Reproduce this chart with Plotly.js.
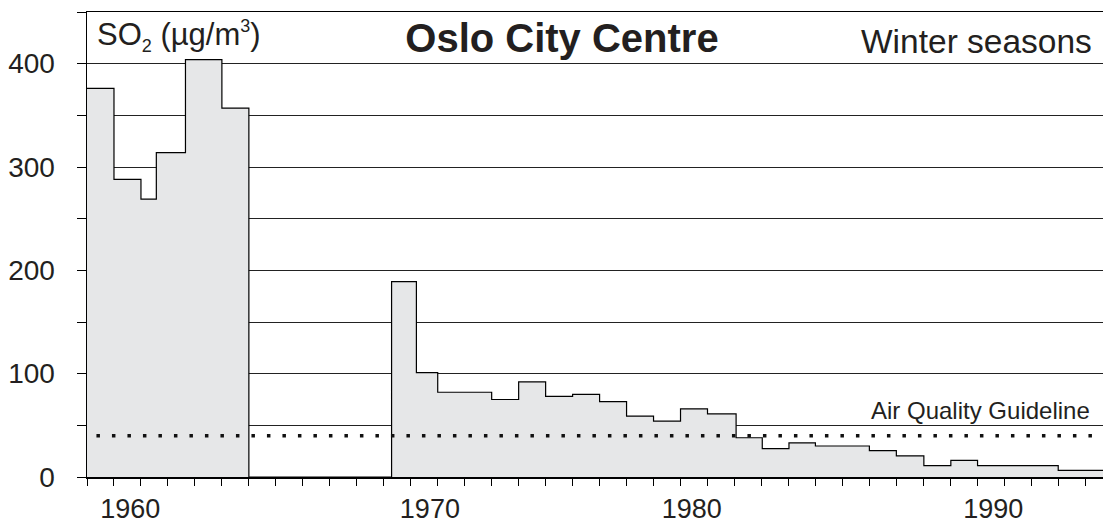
<!DOCTYPE html>
<html>
<head>
<meta charset="utf-8">
<script src="https://cdn.plot.ly/plotly-3.0.1.min.js"></script>
<style>html,body{margin:0;padding:0;background:#fff;}#chart{width:1103px;height:524px;}</style>
</head>
<body>
<div id="chart"></div>
<script>
// Season step edges (start of each step, last value = right end) and SO2 values (µg/m3)
const seasonEdges = [1958, 1959, 1960, 1960.57, 1961.65, 1963, 1964, 1969.29, 1970.21, 1971, 1973, 1974, 1975, 1976, 1977, 1978, 1979, 1980, 1981, 1982.06, 1983.03, 1984.02, 1985, 1987, 1988, 1989.02, 1990.02, 1991.01, 1994, 1995.66];
const so2Values   = [376, 288, 269, 314, 404, 357, 0, 189, 101, 82, 75, 92, 78, 80, 73, 59, 54, 66, 61, 38, 27.5, 33, 30, 25.5, 20.5, 11, 16, 11, 6.5, 6.5];
const guidelineValue = 40;
const guidelineSpan = [1958.35, 1995.66];
const xTickPositions = [1959.6, 1970.71, 1980.42, 1991.59];
const xTickLabels = ["1960", "1970", "1980", "1990"];

const FONT = "Liberation Sans, Arial, Helvetica, sans-serif";
const INK = "#231f20";

const traces = [
  {
    x: seasonEdges, y: so2Values, type: "scatter", mode: "lines",
    line: {shape: "hv", color: "#000", width: 1.2},
    fill: "tozeroy", fillcolor: "#e6e7e8",
    hoverinfo: "x+y", showlegend: false
  },
  {
    x: guidelineSpan, y: [guidelineValue, guidelineValue], type: "scatter", mode: "lines",
    line: {color: "#111", width: 3.5, dash: "3.5px,12px"},
    hoverinfo: "skip", showlegend: false
  }
];

const layout = {
  width: 1103, height: 524,
  margin: {l: 87, r: 0, t: 12, b: 47, pad: 0},
  paper_bgcolor: "#fff", plot_bgcolor: "#fff",
  font: {family: FONT, color: INK},
  showlegend: false,
  title: {
    text: "<b>Oslo City Centre</b>",
    font: {family: FONT, size: 40, color: INK},
    xref: "paper", x: 0.4675, xanchor: "center",
    yref: "container", y: 1 - 37.5/524, yanchor: "middle"
  },
  xaxis: {
    range: [1958, 1995.66],
    showgrid: false, zeroline: false,
    showline: true, linecolor: "#000", linewidth: 1.5, mirror: true,
    tickmode: "array", tickvals: xTickPositions, ticktext: xTickLabels,
    ticks: "", ticklabelstandoff: 7,
    tickfont: {family: FONT, size: 27, color: INK},
    minor: {tickmode: "linear", tick0: 1958, dtick: 1, ticks: "outside", ticklen: 7, tickwidth: 1, tickcolor: "#000", showgrid: false},
    fixedrange: true
  },
  yaxis: {
    range: [0, 450],
    showline: true, linecolor: "#000", linewidth: 1.5,
    zeroline: false,
    tickmode: "linear", tick0: 0, dtick: 100,
    ticks: "outside", ticklen: 9, tickwidth: 1, tickcolor: "#000",
    ticklabelstandoff: 16,
    tickfont: {family: FONT, size: 28, color: INK},
    showgrid: true, gridcolor: "#222", gridwidth: 1,
    minor: {tickmode: "linear", tick0: 50, dtick: 100, ticks: "outside", ticklen: 9, tickwidth: 1, tickcolor: "#000", showgrid: true, gridcolor: "#222", gridwidth: 1},
    fixedrange: true
  },
  annotations: [
    {
      text: "SO<sub><span style=\"font-size:18px\">2</span></sub> (µg/m<sup><span style=\"font-size:18px\">3</span></sup>)",
      xref: "paper", yref: "paper", x: 0.008, y: 1 - (36-12)/465,
      xanchor: "left", yanchor: "middle", showarrow: false,
      font: {family: FONT, size: 31, color: INK}
    },
    {
      text: "Winter seasons",
      xref: "paper", yref: "paper", x: 0.991, y: 1 - (41.5-12)/465,
      xanchor: "right", yanchor: "middle", showarrow: false,
      font: {family: FONT, size: 33.5, color: INK}
    },
    {
      text: "Air Quality Guideline",
      xref: "paper", yref: "y", x: 0.989, y: 64.5,
      xanchor: "right", yanchor: "middle", showarrow: false,
      font: {family: FONT, size: 24, color: INK}
    }
  ]
};

Plotly.newPlot("chart", traces, layout, {displayModeBar: false, staticPlot: true});
</script>
</body>
</html>
